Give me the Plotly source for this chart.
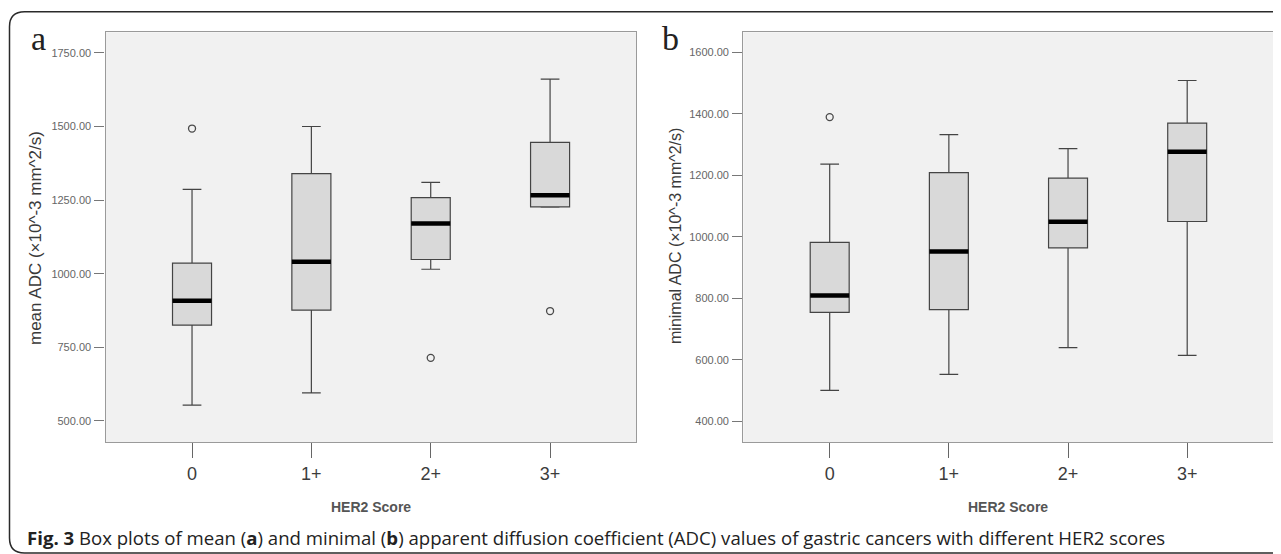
import plotly.graph_objects as go

# ---------------- data ----------------
categories = ["0", "1+", "2+", "3+"]
cat_pos = [0, 1, 2, 3]

# panel a: mean ADC
mean_low = [553, 595, 1015, 1226]
mean_q1 = [825, 876, 1048, 1227]
mean_median = [908, 1040, 1170, 1266]
mean_q3 = [1036, 1340, 1258, 1446]
mean_high = [1286, 1500, 1310, 1661]
mean_out_cat = [0, 2, 3]
mean_out_val = [1493, 714, 873]
mean_ticks = [500, 750, 1000, 1250, 1500, 1750]

# panel b: minimal ADC
min_low = [500, 552, 639, 614]
min_q1 = [754, 763, 964, 1050]
min_median = [809, 952, 1049, 1277]
min_q3 = [982, 1209, 1191, 1370]
min_high = [1237, 1333, 1287, 1509]
min_out_cat = [0]
min_out_val = [1390]
min_ticks = [400, 600, 800, 1000, 1200, 1400, 1600]

# page body adds an 8px margin; the figure is sized/offset to compensate
OFF = 8
W, H = 1281 - OFF, 554 - OFF
BOXW = 0.327


def px(x):
    return (x - OFF) / W


def py(y):
    return 1 - (y - OFF) / H


fig = go.Figure()


def add_panel(xa, ya, low, q1, med, q3, high, ocat, oval):
    fig.add_trace(go.Box(
        x=cat_pos, lowerfence=low, q1=q1, median=med, q3=q3, upperfence=high,
        width=BOXW, whiskerwidth=0.48, fillcolor="#d9d9d9",
        line=dict(color="#444444", width=1.2), boxpoints=False,
        xaxis=xa, yaxis=ya, showlegend=False, hoverinfo="skip"))
    for c, m in zip(cat_pos, med):
        fig.add_trace(go.Scatter(
            x=[c - BOXW / 2, c + BOXW / 2], y=[m, m], mode="lines",
            line=dict(color="#000000", width=4.5), xaxis=xa, yaxis=ya,
            showlegend=False, hoverinfo="skip"))
    fig.add_trace(go.Scatter(
        x=ocat, y=oval, mode="markers",
        marker=dict(symbol="circle-open", size=7, color="#4a4a4a",
                    line=dict(width=1.3)),
        xaxis=xa, yaxis=ya, showlegend=False, hoverinfo="skip"))


add_panel("x", "y", mean_low, mean_q1, mean_median, mean_q3, mean_high,
          mean_out_cat, mean_out_val)
add_panel("x2", "y2", min_low, min_q1, min_median, min_q3, min_high,
          min_out_cat, min_out_val)

xcommon = dict(range=[-0.725, 3.72], tickvals=cat_pos, ticktext=categories,
               ticks="outside", ticklen=15, tickcolor="#666", tickwidth=1.2,
               showgrid=False, zeroline=False, showline=True, mirror=True,
               linecolor="#9a9a9a", linewidth=1.3,
               tickfont=dict(family="Liberation Sans", size=18, color="#3c3c3c"),
               fixedrange=True)
ycommon = dict(ticks="outside", ticklen=10, tickcolor="#777", tickwidth=1.2,
               showgrid=False, zeroline=False, showline=True, mirror=True,
               linecolor="#9a9a9a", linewidth=1.3, tickformat=".2f",
               tickfont=dict(family="Liberation Sans", size=11, color="#666"),
               ticklabelstandoff=1, fixedrange=True)

ydom = [py(442), py(32.3)]
fig.update_layout(
    width=W, height=H, autosize=False,
    margin=dict(l=0, r=0, t=0, b=0),
    paper_bgcolor="white", plot_bgcolor="#f1f1f1",
    xaxis=dict(domain=[px(105.5), px(636)], anchor="y", **xcommon),
    yaxis=dict(domain=ydom, anchor="x", range=[428, 1820],
               tickvals=mean_ticks, **ycommon),
    xaxis2=dict(domain=[px(743.3), px(1273)], anchor="y2", **xcommon),
    yaxis2=dict(domain=ydom, anchor="x2", range=[332, 1666],
                tickvals=min_ticks, **ycommon),
)

# outer rounded frame (open on the right)
fx, ft, fb, r = 9.5, 11.7, 553, 15
xr = 1.05
path = (f"M {xr},{py(ft)} L {px(fx + r)},{py(ft)} Q {px(fx)},{py(ft)} {px(fx)},{py(ft + r)} "
        f"L {px(fx)},{py(fb - r)} Q {px(fx)},{py(fb)} {px(fx + r)},{py(fb)} L {xr},{py(fb)}")
fig.add_shape(type="path", path=path, xref="paper", yref="paper",
              line=dict(color="#2a2a2a", width=1.5))

ann = []
# panel letters
ann.append(dict(text="a", x=px(38), y=py(38), xanchor="center", yanchor="middle",
                font=dict(family="Liberation Serif", size=34, color="#222")))
ann.append(dict(text="b", x=px(670), y=py(38), xanchor="center", yanchor="middle",
                font=dict(family="Liberation Serif", size=34, color="#222")))
# y titles
ann.append(dict(text="mean ADC (×10^-3 mm^2/s)", x=px(35), y=py(238),
                textangle=-90, xanchor="center", yanchor="middle",
                font=dict(family="Liberation Sans", size=17, color="#3a3a3a")))
ann.append(dict(text="minimal ADC (×10^-3 mm^2/s)", x=px(675), y=py(236),
                textangle=-90, xanchor="center", yanchor="middle",
                font=dict(family="Liberation Sans", size=16, color="#3a3a3a")))
# x titles
ann.append(dict(text="<b>HER2 Score</b>", x=px(371), y=py(507),
                xanchor="center", yanchor="middle",
                font=dict(family="Liberation Sans", size=14, color="#555")))
ann.append(dict(text="<b>HER2 Score</b>", x=px(1008), y=py(507),
                xanchor="center", yanchor="middle",
                font=dict(family="Liberation Sans", size=14, color="#555")))
# caption
ann.append(dict(
    text="<b>Fig. 3</b> Box plots of mean (<b>a</b>) and minimal (<b>b</b>) apparent "
         "diffusion coefficient (ADC) values of gastric cancers with different HER2 scores",
    x=px(25), y=py(537), xanchor="left", yanchor="middle",
    font=dict(family="Open Sans", size=18.6, color="#222")))
for a in ann:
    a.update(xref="paper", yref="paper", showarrow=False)
fig.update_layout(annotations=ann)

fig.write_html("out.html")
